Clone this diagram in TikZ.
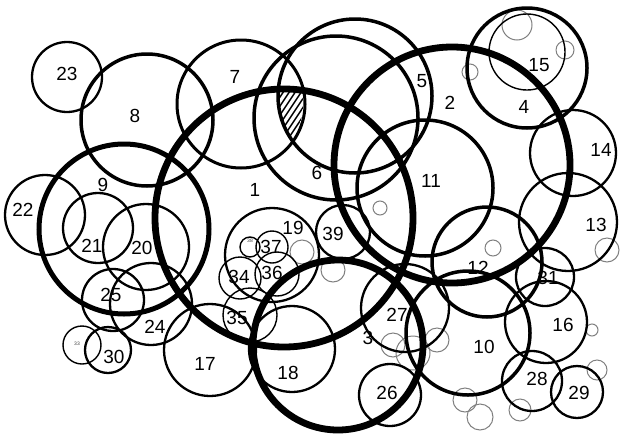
\documentclass[tikz,border=0pt]{standalone}
\usepackage{fontspec}
\setmainfont{Liberation Sans}
\begin{document}
\begin{tikzpicture}[x=1pt,y=-1pt,
  thk/.style={line width=6.8pt},
  ninec/.style={line width=5pt},
  med/.style={line width=3.5pt},
  sevenc/.style={line width=3pt},
  reg/.style={line width=2.3pt},
  thn/.style={line width=1.4pt},
  tinyc/.style={line width=1pt, draw=black!50},
  hatchln/.style={line width=1.4pt},
  lbl/.style={font=\fontsize{19}{21}\selectfont, inner sep=0pt},
  tlbl/.style={font=\fontsize{5}{5}\selectfont, inner sep=0pt, text=black!75}]
\useasboundingbox (0,0) rectangle (620,434);
\fill[white] (0,0) rectangle (620,434);

% hatched region: inside 7, 1 and 5
\begin{scope}
  \clip (241,104) circle[radius=62pt];
  \clip (284,218) circle[radius=129pt];
  \clip (355,96) circle[radius=77pt];
  \foreach \k in {0,...,20} \draw[hatchln] (220+\k*6,160) -- ++(60,-90);
\end{scope}

% tiny grey circles
\foreach \cx/\cy/\r in {517/25/15, 565/50/9, 470/72/8, 380/208/7, 333/270/12,
  302/252/12, 493/248/8, 607/250/12, 592/330/6, 597/370/10, 520/410/11,
  465/400/12, 480/417/13, 393/345/12, 413/353/17, 437/340/12}
  \draw[tinyc] (\cx,\cy) circle[radius=\r pt];

% regular circles
\draw[reg] (67,77) circle[radius=35pt];
\draw[reg] (573,153) circle[radius=43pt];
\draw[reg] (568,222) circle[radius=49pt];
\draw[thn] (527,52) circle[radius=38pt];
\draw[reg] (546,322) circle[radius=41pt];
\draw[reg] (210,350) circle[radius=46pt];
\draw[reg] (292,349) circle[radius=43pt];
\draw[reg] (272,255) circle[radius=47pt];
\draw[reg] (146,247) circle[radius=43pt];
\draw[reg] (98,228) circle[radius=35pt];
\draw[reg] (45,215) circle[radius=40pt];
\draw[reg] (151,304) circle[radius=41pt];
\draw[reg] (113,300) circle[radius=31pt];
\draw[reg] (390,395) circle[radius=31pt];
\draw[reg] (405,308) circle[radius=44pt];
\draw[reg] (532,381) circle[radius=30pt];
\draw[reg] (577,392) circle[radius=26pt];
\draw[reg] (108,350) circle[radius=23pt];
\draw[reg] (545,277) circle[radius=29pt];
\draw[thn] (82,345) circle[radius=19pt];
\draw[thn] (240,278) circle[radius=21pt];
\draw[thn] (250,315) circle[radius=27pt];
\draw[thn] (277,274) circle[radius=22pt];
\draw[thn] (272,247) circle[radius=16pt];
\draw[reg] (343,232) circle[radius=27pt];
\draw[thn] (250,247) circle[radius=10pt];

% medium circles
\draw[sevenc] (241,104) circle[radius=64pt];
\draw[med] (527,68) circle[radius=60pt];
\draw[med] (355,96) circle[radius=77pt];
\draw[med] (336,118) circle[radius=82pt];
\draw[med] (147,120) circle[radius=66pt];
\draw[med] (468,333) circle[radius=62pt];
\draw[med] (425,188) circle[radius=68pt];
\draw[med] (487,262) circle[radius=55pt];

% thick circles
\draw[ninec] (124,229) circle[radius=85pt];
\draw[thk] (338,345) circle[radius=85pt];
\draw[thk] (452,165) circle[radius=118pt];
\draw[thk] (284,218) circle[radius=129pt];

% labels
\node[lbl] (n1) at (255,190) {1};
\node[lbl] (n2) at (450,103) {2};
\node[lbl] (n3) at (368,338) {3};
\node[lbl] (n4) at (524,107) {4};
\node[lbl] (n5) at (422,81) {5};
\node[lbl] (n6) at (317,173) {6};
\node[lbl] (n7) at (235,77) {7};
\node[lbl] (n8) at (135,116) {8};
\node[lbl] (n9) at (103,185) {9};
\node[lbl] (n10) at (484,347) {10};
\node[lbl] (n11) at (431,181) {11};
\node[lbl] (n12) at (478,268) {12};
\node[lbl] (n13) at (596,225) {13};
\node[lbl] (n14) at (601,150) {14};
\node[lbl] (n15) at (539,65) {15};
\node[lbl] (n16) at (563,325) {16};
\node[lbl] (n17) at (205,364) {17};
\node[lbl] (n18) at (288,373) {18};
\node[lbl] (n19) at (293,228) {19};
\node[lbl] (n20) at (142,248) {20};
\node[lbl] (n21) at (92,246) {21};
\node[lbl] (n22) at (23,210) {22};
\node[lbl] (n23) at (67,74) {23};
\node[lbl] (n24) at (155,327) {24};
\node[lbl] (n25) at (111,295) {25};
\node[lbl] (n26) at (387,393) {26};
\node[lbl] (n27) at (397,315) {27};
\node[lbl] (n28) at (537,379) {28};
\node[lbl] (n29) at (579,393) {29};
\node[lbl] (n30) at (114,357) {30};
\node[lbl] (n31) at (548,278) {31};
\node[tlbl] (n33) at (77,344) {33};
\node[lbl] (n34) at (239,277) {34};
\node[lbl] (n35) at (237,318) {35};
\node[lbl] (n36) at (272,273) {36};
\node[lbl] (n37) at (271,247) {37};
\node[tlbl] (n38) at (250,241) {38};
\node[lbl] (n39) at (333,234) {39};
\end{tikzpicture}
\end{document}
